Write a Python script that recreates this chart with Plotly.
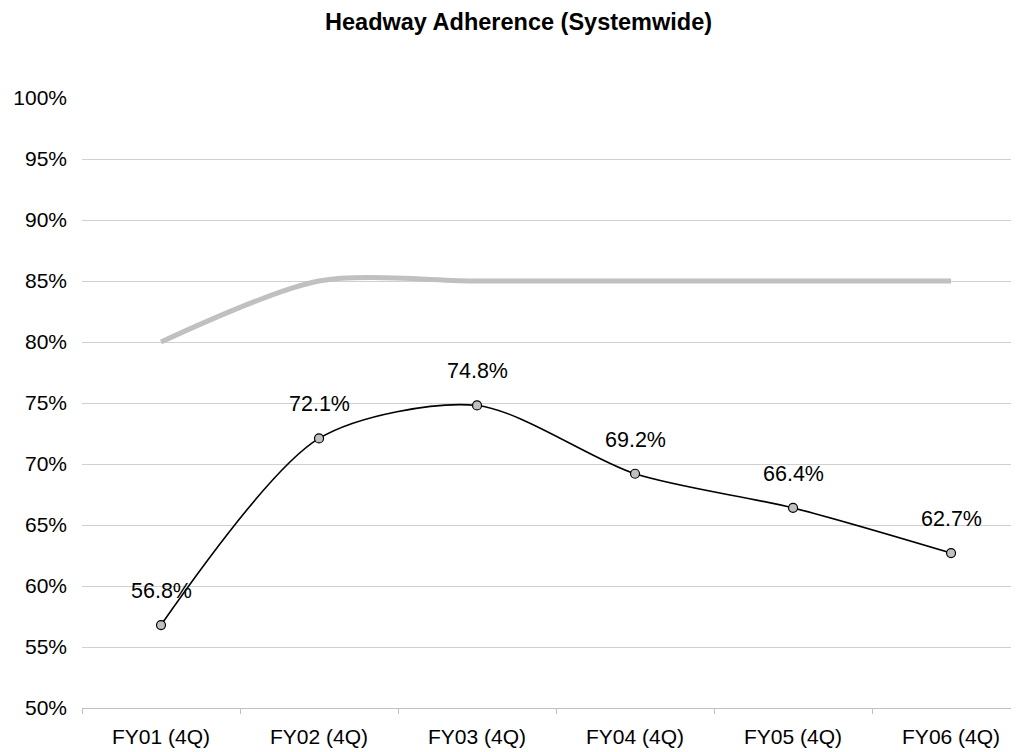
import plotly.graph_objects as go

categories = ["FY01 (4Q)", "FY02 (4Q)", "FY03 (4Q)", "FY04 (4Q)", "FY05 (4Q)", "FY06 (4Q)"]
goal = [80.0, 85.0, 85.0, 85.0, 85.0, 85.0]
actual = [56.8, 72.1, 74.8, 69.2, 66.4, 62.7]
labels = ["56.8%", "72.1%", "74.8%", "69.2%", "66.4%", "62.7%"]
y_ticks = [50, 55, 60, 65, 70, 75, 80, 85, 90, 95, 100]
y_tick_text = [f"{v}%" for v in y_ticks]

FONT = "Liberation Sans, Arial, sans-serif"

fig = go.Figure()
fig.add_trace(go.Scatter(
    x=categories, y=goal, mode="lines",
    line=dict(color="#c0c0c0", width=5, shape="spline", smoothing=0.8),
    hoverinfo="skip", showlegend=False,
))
fig.add_trace(go.Scatter(
    x=categories, y=actual, mode="lines+markers",
    line=dict(color="#000000", width=1.6, shape="spline", smoothing=0.8),
    marker=dict(symbol="circle", size=9, color="#c0c0c0",
                line=dict(color="#000000", width=1.2)),
    showlegend=False,
))

for c, v, t in zip(categories, actual, labels):
    fig.add_annotation(x=c, y=v, text=t, showarrow=False, yshift=34,
                       font=dict(family=FONT, size=21.5, color="#000000"))

fig.update_layout(
    width=1011, height=744,
    margin=dict(l=74, r=0, t=90, b=44),
    paper_bgcolor="white", plot_bgcolor="white",
    font=dict(family=FONT, size=21, color="#000000"),
    title=dict(text="<b>Headway Adherence (Systemwide)</b>", x=0.505, xanchor="center",
               y=0.992, yanchor="top", font=dict(family=FONT, size=23.5, color="#000000")),
    xaxis=dict(
        type="category", range=[-0.5, 5.43], showgrid=False, automargin=False,
        showline=True, linecolor="#bfbfbf", linewidth=1,
        ticks="outside", ticklen=5, tickcolor="#bfbfbf", tickson="boundaries",
        ticklabelstandoff=10, tickfont=dict(family=FONT, size=21),
    ),
    yaxis=dict(
        range=[50, 100], tickvals=y_ticks, ticktext=y_tick_text, automargin=False,
        showgrid=True, gridcolor="#d0d0d0", gridwidth=1,
        zeroline=False, showline=False, ticks="", ticklabelstandoff=14,
        tickfont=dict(family=FONT, size=21),
    ),
)

fig.write_html("out.html")
